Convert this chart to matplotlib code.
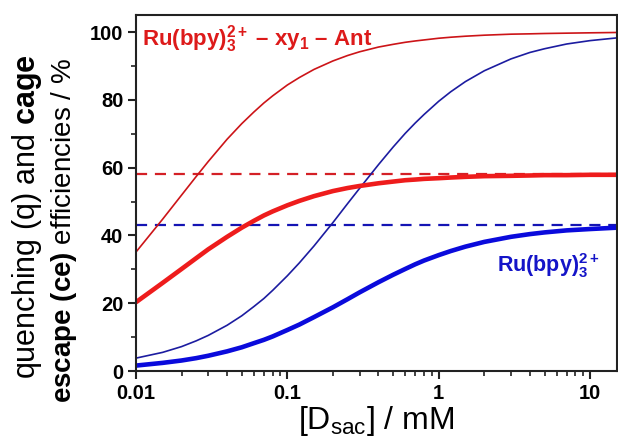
import matplotlib
matplotlib.use("Agg")
import matplotlib.pyplot as plt
from matplotlib.ticker import FixedLocator, LogLocator, NullFormatter

plt.rcParams["font.family"] = ["Liberation Sans", "DejaVu Sans"]
plt.rcParams["mathtext.fontset"] = "custom"
plt.rcParams["mathtext.rm"] = "Liberation Sans"
plt.rcParams["mathtext.it"] = "Liberation Sans"
plt.rcParams["mathtext.bf"] = "Liberation Sans:bold"

# donor concentration, mM
conc = [0.01, 0.015, 0.02, 0.025, 0.03, 0.04, 0.05, 0.06, 0.07, 0.08, 0.1,
        0.12, 0.15, 0.2, 0.25, 0.3, 0.4, 0.5, 0.6, 0.7, 0.8, 1.0, 1.2, 1.5,
        2, 3, 4, 5, 7, 10, 15]

# Ru(bpy)3 - xy1 - Ant
q_dyad = [35.1, 44.8, 51.9, 57.4, 61.8, 68.4, 73.0, 76.4, 79.1, 81.2, 84.4,
          86.6, 89.0, 91.5, 93.1, 94.2, 95.6, 96.4, 97.0, 97.4, 97.7, 98.2,
          98.5, 98.8, 99.1, 99.4, 99.5, 99.6, 99.7, 99.8, 99.9]
ce_dyad = [20.3, 26.0, 30.1, 33.3, 35.9, 39.6, 42.3, 44.3, 45.9, 47.1, 48.9,
           50.2, 51.6, 53.1, 54.0, 54.6, 55.4, 55.9, 56.3, 56.5, 56.7, 56.9,
           57.1, 57.3, 57.5, 57.6, 57.7, 57.8, 57.8, 57.9, 57.9]

# Ru(bpy)3
q_ru = [3.8, 5.5, 7.2, 8.9, 10.5, 13.5, 16.3, 19.0, 21.4, 23.8, 28.1,
        31.9, 36.9, 43.8, 49.4, 53.9, 60.9, 66.1, 70.1, 73.2, 75.7, 79.6,
        82.4, 85.4, 88.6, 92.1, 94.0, 95.1, 96.5, 97.5, 98.3]
ce_ru = [1.6, 2.4, 3.1, 3.8, 4.5, 5.8, 7.0, 8.2, 9.2, 10.2, 12.1,
         13.7, 15.9, 18.8, 21.2, 23.2, 26.2, 28.4, 30.1, 31.5, 32.6, 34.2,
         35.4, 36.7, 38.1, 39.6, 40.4, 40.9, 41.5, 41.9, 42.3]

ce_max_dyad = 58
ce_max_ru = 43

fig = plt.figure(figsize=(6.18, 4.47), dpi=100)
ax = fig.add_axes([0.220, 0.170, 0.778, 0.796])

red_thin = "#cc1418"
red = "#ee1c1c"
blue_thin = "#1c1ca0"
blue = "#0a0adc"

ax.axhline(ce_max_dyad, color="#d42026", lw=1.6, ls=(0, (5, 3.5)))
ax.axhline(ce_max_ru, color="#1414b4", lw=1.6, ls=(0, (5, 3.5)))

ax.plot(conc, q_dyad, color=red_thin, lw=1.2)
ax.plot(conc, q_ru, color=blue_thin, lw=1.2)
ax.plot(conc, ce_dyad, color=red, lw=3.3, solid_capstyle="butt")
ax.plot(conc, ce_ru, color=blue, lw=3.3, solid_capstyle="butt")

ax.set_xscale("log")
ax.set_xlim(0.01, 15)
ax.set_ylim(0, 105)

ax.xaxis.set_major_locator(FixedLocator([0.01, 0.1, 1, 10]))
ax.set_xticklabels(["0.01", "0.1", "1", "10"])
ax.xaxis.set_minor_locator(LogLocator(base=10, subs=range(2, 10)))
ax.xaxis.set_minor_formatter(NullFormatter())
ax.set_yticks([0, 20, 40, 60, 80, 100])
ax.set_yticks([10, 30, 50, 70, 90], minor=True)

for s in ax.spines.values():
    s.set_linewidth(1.5)
    s.set_color("#222222")

ax.tick_params(which="major", direction="out", length=6, width=1.5,
               labelsize=14.5, pad=3, colors="#222222")
ax.tick_params(which="minor", direction="out", length=3.5, width=1.2,
               colors="#222222")
for lab in ax.get_xticklabels() + ax.get_yticklabels():
    lab.set_fontweight("bold")
    lab.set_color("black")

ax.set_xlabel(r"[D$_\mathregular{sac}$] / mM", fontsize=23, labelpad=1)

fig.text(0.043, 0.515, r"quenching (q) and $\mathbf{cage}$", rotation=90,
         fontsize=22, ha="center", va="center")
fig.text(0.103, 0.485, r"$\mathbf{escape\ (ce)}$ efficiencies / %", rotation=90,
         fontsize=20, ha="center", va="center")

ax.text(0.012, 0.932, r"$\mathbf{Ru(bpy)_3^{2+}}$ – xy$\mathbf{_1}$ – Ant",
        transform=ax.transAxes, color="#dd1a1a", fontsize=16,
        fontweight="bold", va="center", ha="left")
ax.text(0.75, 0.295, r"$\mathbf{Ru(bpy)_3^{2+}}$", transform=ax.transAxes,
        color="#1414c8", fontsize=15.5, fontweight="bold", va="center",
        ha="left")

fig.savefig("out.png", dpi=100)
